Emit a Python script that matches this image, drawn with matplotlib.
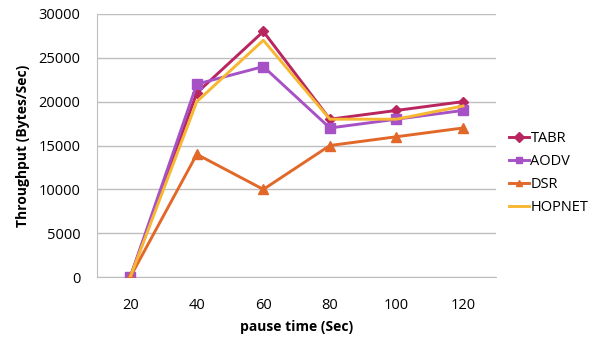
import matplotlib
matplotlib.use("Agg")
import matplotlib.pyplot as plt

pause_times = ["20", "40", "60", "80", "100", "120"]
tabr = [0, 21000, 28000, 18000, 19000, 20000]
aodv = [0, 22000, 24000, 17000, 18000, 19000]
dsr = [0, 14000, 10000, 15000, 16000, 17000]
hopnet = [0, 20000, 27000, 18000, 18000, 19500]
y_ticks = [0, 5000, 10000, 15000, 20000, 25000, 30000]

plt.rcParams["font.family"] = ["Open Sans", "DejaVu Sans"]

fig = plt.figure(figsize=(5.95, 3.4), dpi=100)
ax = fig.add_axes([0.163, 0.185, 0.671, 0.774])

x = list(range(len(pause_times)))
series = [
    ("TABR", tabr, "#B8255F", "D", 5),
    ("AODV", aodv, "#A652C6", "s", 6.5),
    ("DSR", dsr, "#E2682A", "^", 6.5),
    ("HOPNET", hopnet, "#F7B731", None, 0),
]
order = [2, 1, 3, 0]
handles = {}
for i in order:
    name, vals, col, mk, ms = series[i]
    h, = ax.plot(x, vals, color=col, lw=2.1, marker=mk, markersize=ms,
                 markeredgecolor=col, markerfacecolor=col, zorder=3 + i * 0.1)
    handles[name] = h

ax.set_xlim(-0.5, len(pause_times) - 0.5)
ax.set_ylim(0, 30000)
ax.set_yticks(y_ticks)
ax.set_yticklabels([str(v) for v in y_ticks])
ax.set_xticks(x)
ax.set_xticklabels(pause_times)
ax.tick_params(axis="both", length=0, labelsize=10.5, colors="#000000")
ax.tick_params(axis="x", pad=15)
ax.tick_params(axis="y", pad=12)

ax.grid(axis="y", color="#BEBEBE", lw=1.0)
ax.set_axisbelow(True)
for s in ["top", "right"]:
    ax.spines[s].set_visible(False)
ax.spines["left"].set_color("#BEBEBE")
ax.spines["bottom"].set_color("#BEBEBE")

ax.set_ylabel("Throughput (Bytes/Sec)", fontsize=10, fontweight="bold", labelpad=6)
ax.set_xlabel("pause time (Sec)", fontsize=10, fontweight="bold", labelpad=5)

names = ["TABR", "AODV", "DSR", "HOPNET"]
leg = fig.legend([handles[n] for n in names], names, loc="center left",
                 bbox_to_anchor=(0.845, 0.49), frameon=False, fontsize=10.5,
                 handlelength=1.4, handletextpad=0.1, labelspacing=0.55,
                 borderaxespad=0)
for h in leg.legend_handles:
    h.set_markersize(5)

fig.savefig("out.png", dpi=100)
